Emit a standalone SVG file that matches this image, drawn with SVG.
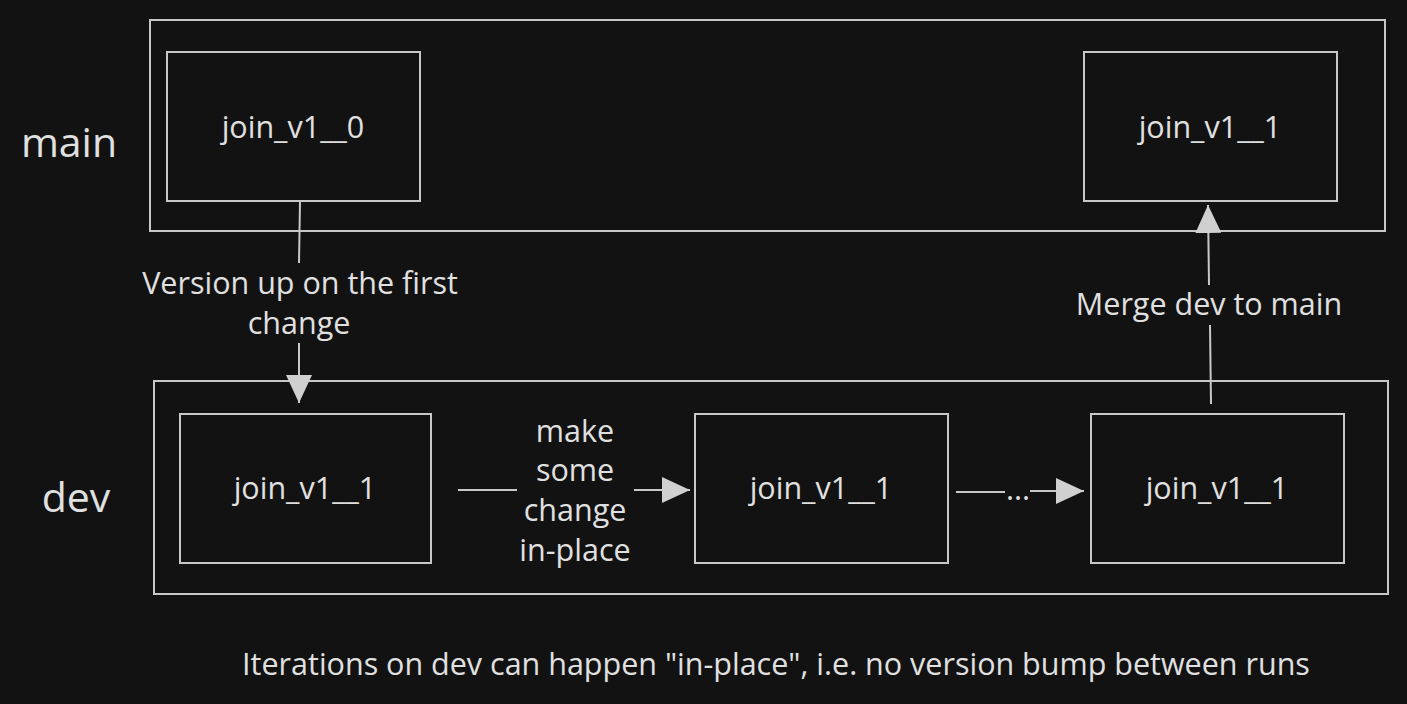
<svg xmlns="http://www.w3.org/2000/svg" width="1407" height="704" viewBox="0 0 1407 704">
<style>
.box{fill:none;stroke:#c8c8c8;stroke-width:2}
.ln{fill:none;stroke:#c8c8c8;stroke-width:2}
text{font-family:"Open Sans",Lato,sans-serif;fill:#e0e0e0;text-anchor:middle}
.t{font-size:30.5px}
.big{font-size:41px}
</style>
<defs>
<marker id="ah" viewBox="0 0 28 26" refX="28" refY="13" markerWidth="28" markerHeight="26" markerUnits="userSpaceOnUse" orient="auto">
<path d="M0,0 L28,13 L0,26 Z" fill="#d0d0d0"/>
</marker>
</defs>
<rect width="1407" height="704" fill="#121212"/>
<g id="lane-main">
<rect class="box" x="150" y="20" width="1235" height="211"/>
<text class="big" x="69" y="157">main</text>
</g>
<g id="lane-dev">
<rect class="box" x="154" y="381" width="1234" height="213"/>
<text class="big" x="76" y="512">dev</text>
</g>
<g id="main-v0">
<rect class="box" x="167" y="52" width="253" height="149"/>
<text class="t" x="293" y="138">join_v1__0</text>
</g>
<g id="main-v1">
<rect class="box" x="1084" y="52" width="253" height="149"/>
<text class="t" x="1210" y="138">join_v1__1</text>
</g>
<g id="dev-1">
<rect class="box" x="180" y="414" width="251" height="149"/>
<text class="t" x="305" y="499">join_v1__1</text>
</g>
<g id="dev-2">
<rect class="box" x="695" y="414" width="253" height="149"/>
<text class="t" x="821" y="499">join_v1__1</text>
</g>
<g id="dev-3">
<rect class="box" x="1091" y="414" width="253" height="149"/>
<text class="t" x="1217" y="499">join_v1__1</text>
</g>
<g id="connectors">
<path class="ln" d="M300,201 L299,263"/>
<path class="ln" d="M299,343 L299,403" marker-end="url(#ah)"/>
<text class="t" x="300" y="294">Version up on the first</text>
<text class="t" x="299" y="334">change</text>
<path class="ln" d="M458,490 L517,490"/>
<path class="ln" d="M634,490 L690,490" marker-end="url(#ah)"/>
<text class="t" x="575" y="442">make</text>
<text class="t" x="575" y="481">some</text>
<text class="t" x="575" y="521">change</text>
<text class="t" x="575" y="561">in-place</text>
<path class="ln" d="M956,492 L1005,492"/>
<path class="ln" d="M1030,491 L1084,491" marker-end="url(#ah)"/>
<text class="t" x="1018" y="500">...</text>
<path class="ln" d="M1211,404 L1210,325"/>
<path class="ln" d="M1209,285 L1208,205" marker-end="url(#ah)"/>
<text class="t" x="1209" y="315">Merge dev to main</text>
</g>
<text class="t" x="776" y="675">Iterations on dev can happen "in-place", i.e. no version bump between runs</text>
</svg>
